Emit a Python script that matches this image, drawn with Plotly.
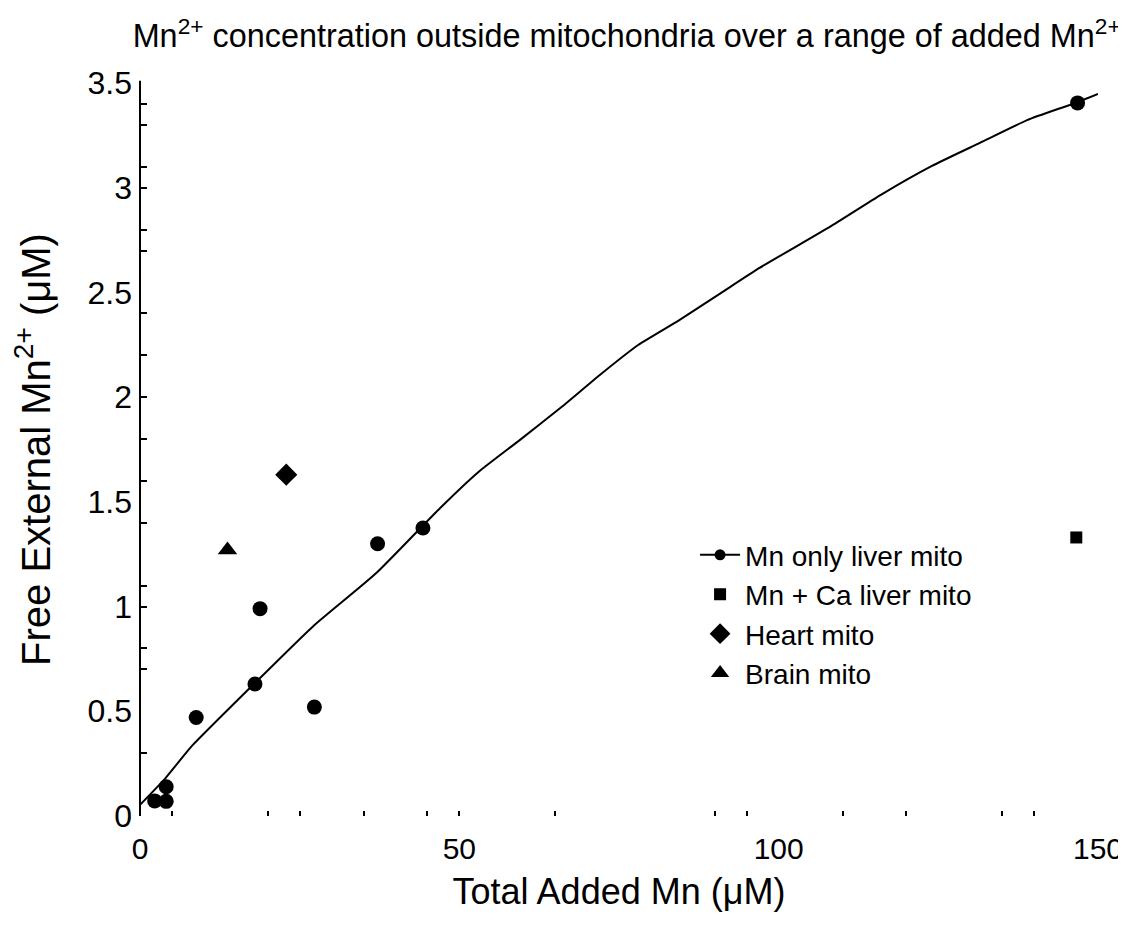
import plotly.graph_objects as go

# Mn only liver mito (data points)
liver_x = [2.3, 4.1, 4.1, 8.8, 18.0, 18.8, 27.3, 37.2, 44.3, 146.8]
liver_y = [0.072, 0.07, 0.14, 0.47, 0.63, 0.99, 0.52, 1.30, 1.375, 3.405]

# fitted curve
fit_x = [0, 4, 8, 18, 27, 37, 47, 53, 59.5, 66, 72, 78, 84.5, 91, 97, 108, 116, 124, 131.5, 139, 146, 150]
fit_y = [0.053, 0.181, 0.33, 0.635, 0.903, 1.16, 1.471, 1.643, 1.796, 1.953, 2.106, 2.249, 2.369,
         2.498, 2.617, 2.813, 2.966, 3.104, 3.214, 3.324, 3.40, 3.448]

# Mn + Ca liver mito
ca_x = [146.6]
ca_y = [1.33]

# Heart mito
heart_x = [22.9]
heart_y = [1.63]

# Brain mito
brain_x = [13.7]
brain_y = [1.27]

x_major = [0, 50, 100, 150]
x_minor = [5, 20, 25, 35, 45, 50, 65, 90, 95, 110, 120, 135, 140]
y_major = [0, 0.5, 1, 1.5, 2, 2.5, 3, 3.5]
y_labels = ["0", "0.5", "1", "1.5", "2", "2.5", "3", "3.5"]
y_minor = [0.3, 0.7, 0.8, 1.0, 1.1, 1.4, 1.6, 1.8, 2.0, 2.2, 2.4, 2.7, 2.8, 3.0, 3.1, 3.3, 3.4]

FONT = "Liberation Sans, Arial, sans-serif"
BLACK = "#000000"

fig = go.Figure()

fig.add_trace(go.Scatter(x=fit_x, y=fit_y, mode="lines",
                         line=dict(color=BLACK, width=2, shape="spline", smoothing=0.5),
                         showlegend=False, hoverinfo="skip"))
fig.add_trace(go.Scatter(x=liver_x, y=liver_y, mode="markers",
                         marker=dict(symbol="circle", size=15, color=BLACK), showlegend=False))
# legend entries
fig.add_trace(go.Scatter(x=[None], y=[None], mode="lines+markers", name="Mn only liver mito",
                         line=dict(color=BLACK, width=2), marker=dict(symbol="circle", size=11, color=BLACK)))
fig.add_trace(go.Scatter(x=ca_x, y=ca_y, mode="markers", name="Mn + Ca liver mito",
                         marker=dict(symbol="square", size=12, color=BLACK)))
fig.add_trace(go.Scatter(x=heart_x, y=heart_y, mode="markers", name="Heart mito",
                         marker=dict(symbol="diamond", size=17, color=BLACK)))
fig.add_trace(go.Scatter(x=brain_x, y=brain_y, mode="markers", name="Brain mito",
                         marker=dict(symbol="triangle-up", size=17, color=BLACK)))

# left spine
fig.add_shape(type="line", xref="x domain", yref="y domain", x0=0, x1=0, y0=0, y1=1.003,
              line=dict(color=BLACK, width=2))

fig.update_layout(
    width=1118, height=917,
    margin=dict(l=132, r=28, t=75, b=109),
    paper_bgcolor="white", plot_bgcolor="white",
    font=dict(family=FONT, color=BLACK),
    title=dict(text="Mn<sup>2+</sup> concentration outside mitochondria over a range of added Mn<sup>2+</sup>",
               font=dict(size=32.4, family=FONT, color=BLACK), x=0.508, xref="paper", xanchor="center",
               y=0.9695, yref="container", yanchor="middle"),
    xaxis=dict(range=[0, 150], tickvals=x_major, ticks="", showline=False, showgrid=False, zeroline=False,
               automargin=False, mirror="ticks", tickfont=dict(size=30, family=FONT), ticklabelstandoff=12,
               ticklabeloverflow="allow",
               minor=dict(tickvals=x_minor, ticks="inside", ticklen=5, tickwidth=2, tickcolor=BLACK),
               title=dict(text="Total Added Mn (μM)", font=dict(size=36, family=FONT), standoff=14)),
    yaxis=dict(range=[0, 3.5], tickvals=y_major, ticktext=y_labels, ticks="", showline=False, showgrid=False,
               zeroline=False, automargin=False, mirror="ticks", tickfont=dict(size=32, family=FONT),
               ticklabelstandoff=7,
               minor=dict(tickvals=y_minor, ticks="inside", ticklen=7, tickwidth=2, tickcolor=BLACK),
               title=dict(text="Free External Mn<sup>2+</sup> (μM)", font=dict(size=40, family=FONT), standoff=30)),
    legend=dict(x=0.5794, y=0.39, xanchor="left", yanchor="top", bgcolor="rgba(0,0,0,0)",
                font=dict(size=28, family=FONT, color=BLACK), itemwidth=40, tracegroupgap=0),
)

fig.write_html("out.html")
